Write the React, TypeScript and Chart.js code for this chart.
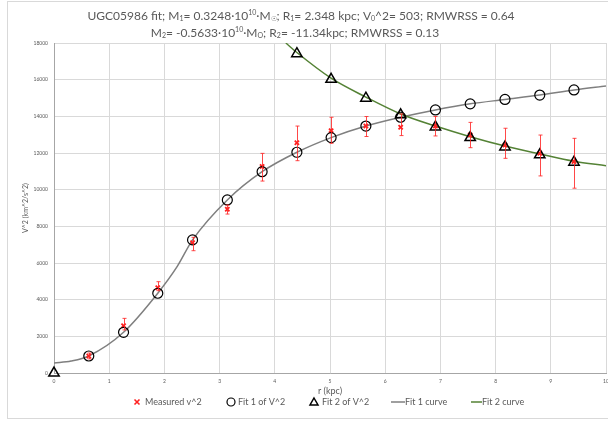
import React, { useEffect, useRef } from 'react';
import { Chart, registerables } from 'chart.js';

Chart.register(...registerables);

// ---- data ----
const radii = [0.63, 1.26, 1.88, 2.51, 3.14, 3.77, 4.40, 5.02, 5.65, 6.28, 6.91, 7.54, 8.17, 8.80, 9.42];
const measuredV2 = [927, 2580, 4650, 7110, 8930, 11270, 12560, 13220, 13470, 13400, 13470, 12980, 12440, 11980, 11530];
const measuredLow = [770, 2350, 4490, 6670, 8670, 10470, 11580, 12530, 12900, 12950, 12930, 12290, 11710, 10750, 10080];
const measuredHigh = [1090, 2980, 4980, 7400, 9160, 11980, 13470, 13950, 13990, 14130, 13990, 13670, 13350, 12980, 12800];
const fit1V2 = [927, 2220, 4350, 7260, 9440, 10980, 12040, 12840, 13470, 13950, 14350, 14680, 14920, 15160, 15440];
const fit2R = [0, 4.40, 5.02, 5.65, 6.28, 6.91, 7.54, 8.17, 8.80, 9.42];
const fit2V2 = [0, 17420, 16020, 14990, 14080, 13420, 12840, 12330, 11900, 11500];
const fit1CurveR = [0, 0.31, 0.63, 1.26, 1.88, 2.23, 2.51, 3.14, 3.77, 4.40, 5.02, 5.65, 6.28, 6.91, 7.54, 8.17, 8.80, 9.42, 10];
const fit1CurveV = [540, 650, 927, 2220, 4350, 5800, 7260, 9440, 10980, 12040, 12840, 13470, 13950, 14350, 14680, 14920, 15160, 15440, 15660];
const fit2CurveR = [4.20, 4.40, 5.02, 5.65, 6.28, 6.91, 7.54, 8.17, 8.80, 9.42, 10];
const fit2CurveV = [18000, 17480, 16080, 15050, 14130, 13470, 12890, 12380, 11950, 11550, 11310];
const xTicksMax = 10;
const yTicksMax = 18000;

const seriesLabels = ['Measured v^2', 'Fit 1 of V^2', 'Fit 2 of V^2', 'Fit 1 curve', 'Fit 2 curve'];
const xAxisTitle = 'r (kpc)';
const yAxisTitle = 'V^2 (km^2/s^2)';
// title as rich segments: [text, kind] kind: n normal, b sub, p sup
const titleLine1: [string, string][] = [
  ['UGC05986 fit; M', 'n'], ['1', 'b'], ['= 0.3248·10', 'n'], ['10', 'p'], ['·M', 'n'], ['☉', 'b'],
  ['; R', 'n'], ['1', 'b'], ['= 2.348 kpc; V', 'n'], ['0', 'b'], ['^2= 503; RMWRSS = 0.64', 'n'],
];
const titleLine2: [string, string][] = [
  ['M', 'n'], ['2', 'b'], ['= -0.5633·10', 'n'], ['10', 'p'], ['·M', 'n'], ['O', 'b'],
  ['; R', 'n'], ['2', 'b'], ['= -11.34kpc; RMWRSS = 0.13', 'n'],
];

const FONT = 'Lato, "Open Sans", sans-serif';
const TXT = '#595959';
const AREA = { left: 54, right: 606, top: 43, bottom: 373 };

function drawRich(ctx: CanvasRenderingContext2D, segs: [string, string][], cx: number, cy: number, size: number) {
  const small = Math.round(size * 0.62);
  let total = 0;
  for (const [t, k] of segs) {
    ctx.font = `${k === 'n' ? size : small}px ${FONT}`;
    total += ctx.measureText(t).width;
  }
  let x = cx - total / 2;
  ctx.textBaseline = 'middle';
  ctx.textAlign = 'left';
  for (const [t, k] of segs) {
    ctx.font = `${k === 'n' ? size : small}px ${FONT}`;
    const dy = k === 'b' ? 3 : k === 'p' ? -3.5 : 0;
    ctx.fillText(t, x, cy + dy);
    x += ctx.measureText(t).width;
  }
}

const decorPlugin = {
  id: 'decor',
  beforeDraw(chart: any) {
    const ctx = chart.ctx;
    ctx.save();
    ctx.fillStyle = '#ffffff';
    ctx.fillRect(0, 0, chart.width, chart.height);
    ctx.strokeStyle = '#d9d9d9';
    ctx.lineWidth = 1;
    ctx.strokeRect(7.5, 1.5, chart.width + 5, 417);
    ctx.restore();
  },
  afterDatasetsDraw(chart: any) {
    const ctx = chart.ctx;
    const xs = chart.scales.x;
    const ys = chart.scales.y;
    ctx.save();
    ctx.strokeStyle = 'rgba(255,40,40,0.85)';
    ctx.lineWidth = 1;
    for (let i = 0; i < radii.length; i++) {
      const px = Math.round(xs.getPixelForValue(radii[i])) + 0.5;
      const yl = ys.getPixelForValue(measuredLow[i]);
      const yh = ys.getPixelForValue(measuredHigh[i]);
      ctx.beginPath();
      ctx.moveTo(px, yl);
      ctx.lineTo(px, yh);
      ctx.moveTo(px - 2, yl);
      ctx.lineTo(px + 2, yl);
      ctx.moveTo(px - 2, yh);
      ctx.lineTo(px + 2, yh);
      ctx.stroke();
    }
    ctx.restore();
  },
  afterDraw(chart: any) {
    const ctx = chart.ctx;
    ctx.save();
    ctx.fillStyle = TXT;
    drawRich(ctx, titleLine1, 301, 16, 12);
    drawRich(ctx, titleLine2, 295, 33, 12);

    // legend
    const ly = 402;
    ctx.font = `9px ${FONT}`;
    ctx.textBaseline = 'middle';
    ctx.textAlign = 'left';
    ctx.strokeStyle = '#ff2020';
    ctx.lineWidth = 1.6;
    ctx.beginPath();
    ctx.moveTo(134.5, ly - 2.5); ctx.lineTo(139.5, ly + 2.5);
    ctx.moveTo(139.5, ly - 2.5); ctx.lineTo(134.5, ly + 2.5);
    ctx.stroke();
    ctx.fillText(seriesLabels[0], 145, ly);
    ctx.strokeStyle = '#000';
    ctx.lineWidth = 1.2;
    ctx.beginPath();
    ctx.arc(231, ly, 4, 0, Math.PI * 2);
    ctx.stroke();
    ctx.fillText(seriesLabels[1], 238, ly);
    ctx.lineWidth = 1.5;
    ctx.beginPath();
    ctx.moveTo(314, ly - 4);
    ctx.lineTo(318, ly + 3);
    ctx.lineTo(310, ly + 3);
    ctx.closePath();
    ctx.stroke();
    ctx.fillText(seriesLabels[2], 322, ly);
    ctx.strokeStyle = '#7f7f7f';
    ctx.beginPath();
    ctx.moveTo(391, ly); ctx.lineTo(405, ly);
    ctx.stroke();
    ctx.fillText(seriesLabels[3], 405, ly);
    ctx.strokeStyle = '#548235';
    ctx.beginPath();
    ctx.moveTo(471, ly); ctx.lineTo(482, ly);
    ctx.stroke();
    ctx.fillText(seriesLabels[4], 482, ly);
    ctx.restore();
  },
};

export default function App() {
  const ref = useRef<HTMLCanvasElement | null>(null);
  useEffect(() => {
    document.body.style.margin = '0';
    const canvas = ref.current;
    if (!canvas) return;
    const chart = new Chart(canvas, {
      type: 'scatter',
      data: {
        datasets: [
          {
            label: seriesLabels[3],
            type: 'line',
            data: fit1CurveR.map((r, i) => ({ x: r, y: fit1CurveV[i] })),
            borderColor: '#7f7f7f',
            borderWidth: 1.5,
            pointRadius: 0,
            cubicInterpolationMode: 'monotone',
            fill: false,
            order: 5,
          },
          {
            label: seriesLabels[4],
            type: 'line',
            data: fit2CurveR.map((r, i) => ({ x: r, y: fit2CurveV[i] })),
            borderColor: '#548235',
            borderWidth: 1.5,
            pointRadius: 0,
            cubicInterpolationMode: 'monotone',
            fill: false,
            order: 4,
          },
          {
            label: seriesLabels[0],
            data: radii.map((r, i) => ({ x: r, y: measuredV2[i] })),
            pointStyle: 'crossRot',
            pointRadius: 3,
            borderWidth: 1.8,
            borderColor: '#ff2020',
            backgroundColor: '#ff2020',
            clip: false,
            order: 3,
          },
          {
            label: seriesLabels[1],
            data: radii.map((r, i) => ({ x: r, y: fit1V2[i] })),
            pointStyle: 'circle',
            pointRadius: 5,
            borderWidth: 1.2,
            borderColor: '#000000',
            backgroundColor: 'rgba(0,0,0,0)',
            clip: false,
            order: 2,
          },
          {
            label: seriesLabels[2],
            data: fit2R.map((r, i) => ({ x: r, y: fit2V2[i] })),
            pointStyle: 'triangle',
            pointRadius: 6,
            borderWidth: 1.5,
            borderColor: '#000000',
            backgroundColor: 'rgba(0,0,0,0)',
            clip: false,
            order: 1,
          },
        ],
      } as any,
      options: {
        animation: false,
        responsive: false,
        devicePixelRatio: 1,
        layout: { autoPadding: false, padding: { top: 43, left: 0, right: 2, bottom: 0 } },
        plugins: {
          legend: { display: false },
          title: { display: false },
          tooltip: { enabled: false },
        },
        scales: {
          x: {
            type: 'linear',
            min: 0,
            max: xTicksMax,
            ticks: { stepSize: 1, color: TXT, font: { family: FONT, size: 5 }, padding: 5, maxRotation: 0 },
            grid: { color: '#d9d9d9', drawTicks: false },
            border: { color: '#a6a6a6', width: 1 },
            title: { display: true, text: xAxisTitle, color: TXT, font: { family: FONT, size: 9 }, padding: { top: 0, bottom: 26.6 } },
            afterFit: (s: any) => { s.height = 50; s.paddingRight = 0; s.paddingLeft = 0; },
          },
          y: {
            type: 'linear',
            min: 0,
            max: yTicksMax,
            ticks: { stepSize: 2000, color: TXT, font: { family: FONT, size: 5 }, padding: 6, callback: (v: any) => String(v) },
            grid: { color: '#d9d9d9', drawTicks: false },
            border: { color: '#a6a6a6', width: 1 },
            title: { display: true, text: yAxisTitle, color: TXT, font: { family: FONT, size: 7 }, padding: { top: 21.8, bottom: 0 } },
            afterFit: (s: any) => { s.width = 54; s.paddingTop = 0; s.paddingBottom = 0; },
          },
        },
      } as any,
      plugins: [decorPlugin],
    });
    // nudge layout padding so the plot area lands where the reference has it
    for (let k = 0; k < 3; k++) {
      const ca = chart.chartArea;
      const pad = (chart.options as any).layout.padding;
      const dr = ca.right - AREA.right;
      const dl = AREA.left - ca.left;
      const dt = AREA.top - ca.top;
      const db = ca.bottom - AREA.bottom;
      if (Math.abs(dr) < 0.5 && Math.abs(dl) < 0.5 && Math.abs(dt) < 0.5 && Math.abs(db) < 0.5) break;
      pad.right += dr;
      pad.left += dl;
      pad.top += dt;
      pad.bottom += db;
      chart.update();
    }
    return () => chart.destroy();
  }, []);
  return <canvas ref={ref} width={608} height={423} style={{ display: 'block', width: 608, height: 423 }} />;
}
